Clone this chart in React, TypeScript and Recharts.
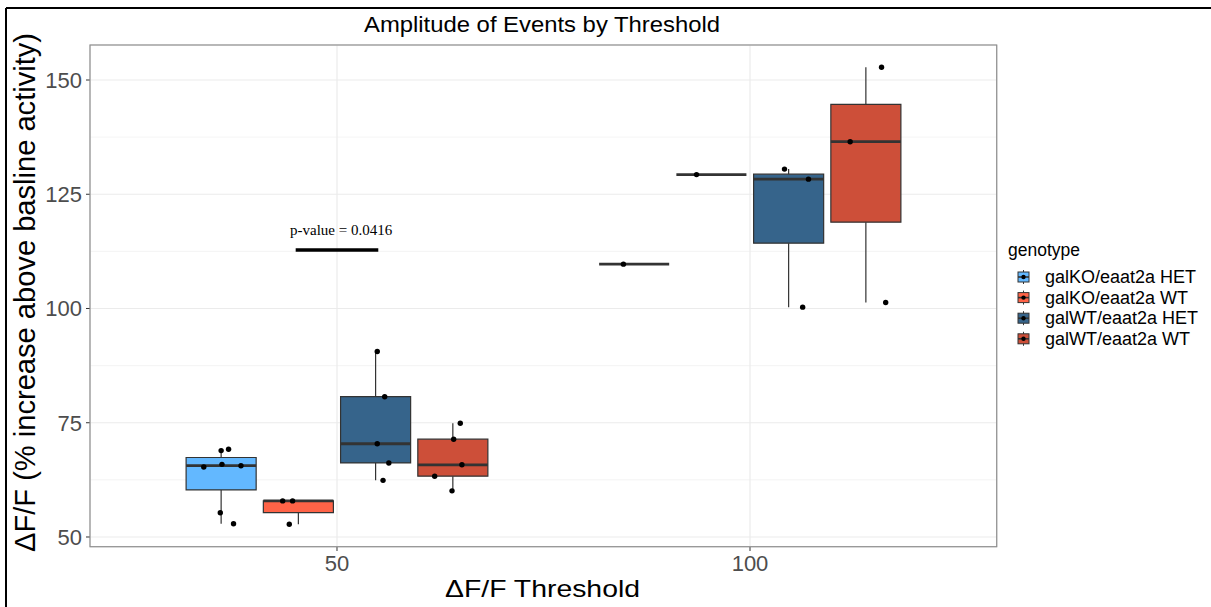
import React from 'react';
import {
  ComposedChart,
  Scatter,
  XAxis,
  YAxis,
  CartesianGrid,
  ReferenceArea,
  ReferenceLine,
  ReferenceDot
} from 'recharts';

const FONT = '"Liberation Sans", Arial, Helvetica, sans-serif';

// genotypes, in legend order
const genotypes = ['galKO/eaat2a HET', 'galKO/eaat2a WT', 'galWT/eaat2a HET', 'galWT/eaat2a WT'];
const genotypeColors = ['#63B8FF', '#FF6347', '#36648B', '#CD4F39'];
const thresholds = [50, 100];

// amplitude values (ΔF/F, %), one array per genotype and threshold
const koHet50 = [65.3, 65.9, 65.6, 68.9, 69.2, 55.3, 52.9];
const koWt50 = [57.9, 57.9, 52.8];
const wtHet50 = [90.6, 80.7, 70.4, 66.2, 62.4];
const wtWt50 = [74.9, 71.4, 65.8, 63.3, 60.1];
const koHet100 = [109.7];
const koWt100 = [129.3];
const wtHet100 = [130.5, 128.3, 100.3];
const wtWt100 = [152.8, 136.5, 101.3];

// horizontal jitter of each point (threshold units), as drawn
const koHet50Jitter = [-2.1, 0.1, 2.4, 0.0, 0.9, -0.1, 1.5];
const koWt50Jitter = [-1.9, -0.7, -1.1];
const wtHet50Jitter = [0.2, 1.1, 0.2, 1.6, 0.9];
const wtWt50Jitter = [0.9, 0.1, 1.1, -2.2, -0.1];
const koHet100Jitter = [-1.3];
const koWt100Jitter = [-1.8];
const wtHet100Jitter = [-0.5, 2.4, 1.7];
const wtWt100Jitter = [1.9, -1.9, 2.4];

// significance annotation
const pValueLabel = 'p-value = 0.0416';
const pBarFrom = 45;
const pBarTo = 55;
const pBarY = 112.8;

const yTicks = [50, 75, 100, 125, 150];
const yMinor = [62.5, 87.5, 112.5, 137.5];

const valuesByGenotype = [
  [koHet50, koHet100],
  [koWt50, koWt100],
  [wtHet50, wtHet100],
  [wtWt50, wtWt100]
];
const jitterByGenotype = [
  [koHet50Jitter, koHet100Jitter],
  [koWt50Jitter, koWt100Jitter],
  [wtHet50Jitter, wtHet100Jitter],
  [wtWt50Jitter, wtWt100Jitter]
];

const DODGE = 9.35;
const HALF_BOX = 4.24;

const quantile = (sorted: number[], p: number) => {
  const h = (sorted.length - 1) * p;
  const lo = Math.floor(h);
  const hi = Math.ceil(h);
  return sorted[lo] + (h - lo) * (sorted[hi] - sorted[lo]);
};

const boxStats = (values: number[]) => {
  const s = [...values].sort((a, b) => a - b);
  const q1 = quantile(s, 0.25);
  const q3 = quantile(s, 0.75);
  const iqr = q3 - q1;
  const lowIn = s.filter(v => v >= q1 - 1.5 * iqr);
  const highIn = s.filter(v => v <= q3 + 1.5 * iqr);
  return {
    q1,
    q3,
    median: quantile(s, 0.5),
    lower: Math.min(...lowIn),
    upper: Math.max(...highIn)
  };
};

const boxes: any[] = [];
const points: { x: number; y: number }[] = [];
genotypes.forEach((g, gi) => {
  thresholds.forEach((t, ti) => {
    const vals = valuesByGenotype[gi][ti];
    const center = t + (gi - 1.5) * DODGE;
    boxes.push({ key: `${gi}-${ti}`, center, color: genotypeColors[gi], ...boxStats(vals) });
    vals.forEach((v, i) => points.push({ x: center + jitterByGenotype[gi][ti][i], y: v }));
  });
});

const BOX_LINE = '#333333';

const Dot = (props: any) => <circle cx={props.cx} cy={props.cy} r={2.7} fill="#000" />;

const App: React.FC = () => {
  return (
    <div style={{ position: 'absolute', left: 0, top: 0, width: 1211, height: 607, background: '#fff' }}>
      <ComposedChart
        width={1211}
        height={607}
        margin={{ top: 45, right: 214, bottom: 30, left: 0 }}
        style={{ position: 'absolute', left: 0, top: 0 }}
      >
        <CartesianGrid horizontalValues={yMinor} vertical={false} stroke="#EFEFEF" strokeWidth={0.7} />
        <CartesianGrid stroke="#EBEBEB" strokeWidth={1.2} />
        <XAxis
          type="number"
          dataKey="x"
          domain={[20.1, 129.9]}
          ticks={thresholds}
          allowDataOverflow
          height={30}
          axisLine={false}
          tickSize={4}
          tickMargin={4}
          tickLine={{ stroke: '#333333' }}
          tick={{ fill: '#4D4D4D', fontSize: 22, fontFamily: FONT }}
        />
        <YAxis
          type="number"
          domain={[47.81, 157.66]}
          ticks={yTicks}
          allowDataOverflow
          width={90}
          axisLine={false}
          tickSize={4}
          tickMargin={4}
          tickLine={{ stroke: '#333333' }}
          tick={{ fill: '#4D4D4D', fontSize: 22, fontFamily: FONT }}
        />
        {boxes.map(b => (
          <ReferenceLine
            key={`wu-${b.key}`}
            segment={[{ x: b.center, y: b.q3 }, { x: b.center, y: b.upper }]}
            stroke={BOX_LINE}
            strokeWidth={1.2}
          />
        ))}
        {boxes.map(b => (
          <ReferenceLine
            key={`wl-${b.key}`}
            segment={[{ x: b.center, y: b.lower }, { x: b.center, y: b.q1 }]}
            stroke={BOX_LINE}
            strokeWidth={1.2}
          />
        ))}
        {boxes.map(b => (
          <ReferenceArea
            key={`box-${b.key}`}
            x1={b.center - HALF_BOX}
            x2={b.center + HALF_BOX}
            y1={b.q1}
            y2={b.q3}
            fill={b.color}
            fillOpacity={1}
            stroke={BOX_LINE}
            strokeWidth={1.2}
          />
        ))}
        {boxes.map(b => (
          <ReferenceLine
            key={`med-${b.key}`}
            segment={[{ x: b.center - HALF_BOX, y: b.median }, { x: b.center + HALF_BOX, y: b.median }]}
            stroke={BOX_LINE}
            strokeWidth={2.8}
          />
        ))}
        <Scatter data={points} dataKey="y" fill="#000" shape={Dot} isAnimationActive={false} />
        <ReferenceLine
          segment={[{ x: pBarFrom, y: pBarY }, { x: pBarTo, y: pBarY }]}
          stroke="#000"
          strokeWidth={3.5}
        />
        <ReferenceDot
          x={(pBarFrom + pBarTo) / 2 + 0.5}
          y={pBarY + 4.4}
          r={0}
          fill="none"
          stroke="none"
          label={{
            value: pValueLabel,
            position: 'center',
            fill: '#000',
            fontSize: 15,
            fontFamily: '"Liberation Serif", "Times New Roman", serif'
          }}
        />
      </ComposedChart>

      <svg
        width={1211}
        height={607}
        style={{ position: 'absolute', left: 0, top: 0, pointerEvents: 'none' }}
      >
        {/* outer frame (cropped) */}
        <line x1={6} y1={8} x2={1211} y2={8} stroke="#000" strokeWidth={2} />
        <line x1={6} y1={8} x2={6} y2={607} stroke="#000" strokeWidth={2} />
        {/* panel border */}
        <rect x={90} y={45} width={906.7} height={501.7} fill="none" stroke="#8F8F8F" strokeWidth={1.2} />

        <text
          x={542}
          y={32}
          textAnchor="middle"
          fontFamily={FONT}
          fontSize={22.5}
          textLength={356}
          lengthAdjust="spacingAndGlyphs"
          fill="#000"
        >
          Amplitude of Events by Threshold
        </text>
        <text
          x={542.5}
          y={597}
          textAnchor="middle"
          fontFamily={FONT}
          fontSize={24}
          textLength={195}
          lengthAdjust="spacingAndGlyphs"
          fill="#000"
        >
          ΔF/F Threshold
        </text>
        <text
          x={0}
          y={0}
          transform="translate(35,292.5) rotate(-90)"
          textAnchor="middle"
          fontFamily={FONT}
          fontSize={29}
          textLength={519}
          lengthAdjust="spacingAndGlyphs"
          fill="#000"
        >
          ΔF/F (% increase above basline activity)
        </text>

        {/* legend */}
        <text x={1008} y={256} fontFamily={FONT} fontSize={17.5} fill="#000">
          genotype
        </text>
        {genotypes.map((g, i) => {
          const cy = 277 + i * 20.6;
          return (
            <g key={g}>
              <line x1={1023.5} y1={cy - 7} x2={1023.5} y2={cy + 7} stroke={BOX_LINE} strokeWidth={1} />
              <rect x={1018} y={cy - 5} width={11} height={10} fill={genotypeColors[i]} stroke={BOX_LINE} strokeWidth={1} />
              <line x1={1018} y1={cy} x2={1029} y2={cy} stroke={BOX_LINE} strokeWidth={1.6} />
              <circle cx={1023.5} cy={cy} r={2.2} fill="#000" />
              <text x={1045} y={cy + 6} fontFamily={FONT} fontSize={18} fill="#000">
                {g}
              </text>
            </g>
          );
        })}
      </svg>
    </div>
  );
};

export default App;
